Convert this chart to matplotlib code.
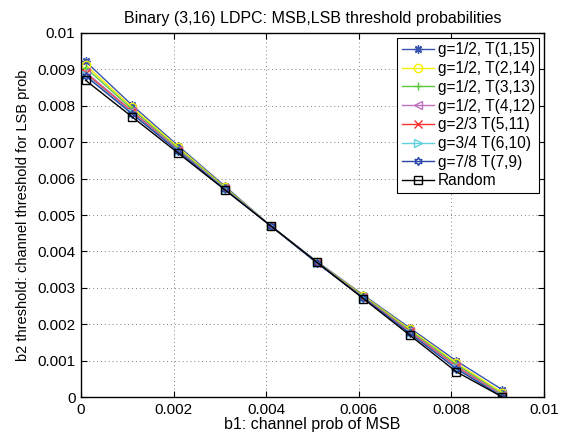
import matplotlib
matplotlib.use("Agg")
import matplotlib.pyplot as plt
import numpy as np

plt.rcParams['font.family'] = ['Liberation Sans', 'DejaVu Sans']

x = [0.0001, 0.0011, 0.0021, 0.0031, 0.0041, 0.0051, 0.0061, 0.0071, 0.0081, 0.0091]

labels = ["g=1/2, T(1,15)", "g=1/2, T(2,14)", "g=1/2, T(3,13)", "g=1/2, T(4,12)",
          "g=2/3 T(5,11)", "g=3/4 T(6,10)", "g=7/8 T(7,9)", "Random"]

y_t1 = [0.00922, 0.00802, 0.00690, 0.00580, 0.00470, 0.00372, 0.00280, 0.00190, 0.00100, 0.00020]
y_t2 = [0.00912, 0.00796, 0.00686, 0.00577, 0.00470, 0.00370, 0.00278, 0.00186, 0.00094, 0.00012]
y_t3 = [0.00905, 0.00791, 0.00682, 0.00575, 0.00470, 0.00369, 0.00276, 0.00183, 0.00090, 0.00008]
y_t4 = [0.00893, 0.00786, 0.00679, 0.00573, 0.00470, 0.00369, 0.00274, 0.00180, 0.00086, 0.00005]
y_t5 = [0.00889, 0.00783, 0.00677, 0.00572, 0.00470, 0.00368, 0.00273, 0.00178, 0.00083, 0.00003]
y_t6 = [0.00885, 0.00780, 0.00676, 0.00572, 0.00470, 0.00368, 0.00272, 0.00176, 0.00080, 0.00002]
y_t7 = [0.00882, 0.00778, 0.00675, 0.00571, 0.00470, 0.00368, 0.00272, 0.00175, 0.00078, 0.00001]
y_rand = [0.00870, 0.00770, 0.00670, 0.00570, 0.00470, 0.00370, 0.00270, 0.00170, 0.00070, 0.00000]

series = [y_t1, y_t2, y_t3, y_t4, y_t5, y_t6, y_t7, y_rand]
colors = ['#3a55b0', '#f5f000', '#5cc840', '#c070c0', '#ff3030', '#60d0e0', '#2a45a8', '#000000']
markers = [(8, 2, 0), 'o', '+', '<', 'x', '>', (6, 1, 0), 's']

fig = plt.figure(figsize=(5.72, 4.37), dpi=100)
ax = fig.add_axes([0.1416, 0.0915, 0.8094, 0.833])

for ys, c, m, lab in zip(series, colors, markers, labels):
    ax.plot(x, ys, color=c, marker=m, markersize=6, markerfacecolor='none',
            markeredgecolor=c, linewidth=1.0, label=lab)

ax.set_xlim(0, 0.01)
ax.set_ylim(0, 0.01)
ax.set_xticks([0, 0.002, 0.004, 0.006, 0.008, 0.01])
ax.set_xticklabels(['0', '0.002', '0.004', '0.006', '0.008', '0.01'])
ax.set_yticks([i * 0.001 for i in range(11)])
ax.set_yticklabels(['0', '0.001', '0.002', '0.003', '0.004', '0.005', '0.006',
                    '0.007', '0.008', '0.009', '0.01'])
ax.tick_params(direction='in', labelsize=11, length=4, width=0.8, top=True, right=True, pad=4)
ax.grid(True, linestyle=(0, (1, 3)), color='#808080', linewidth=0.7)
for s in ax.spines.values():
    s.set_linewidth(1.0)

ax.set_title("Binary (3,16) LDPC: MSB,LSB threshold probabilities", fontsize=11.5, pad=7)
ax.set_xlabel("b1: channel prob of MSB", fontsize=11.5, labelpad=0)
ax.set_ylabel("b2 threshold: channel threshold for LSB prob", fontsize=10.5, labelpad=5)

leg = ax.legend(loc='upper right', fontsize=11.2, handlelength=2.1, labelspacing=0.24,
                borderpad=0.3, handletextpad=0.2, fancybox=False, framealpha=1,
                edgecolor='black', borderaxespad=0.3, numpoints=1)
leg.get_frame().set_linewidth(0.8)

fig.savefig("out.png", dpi=100)
